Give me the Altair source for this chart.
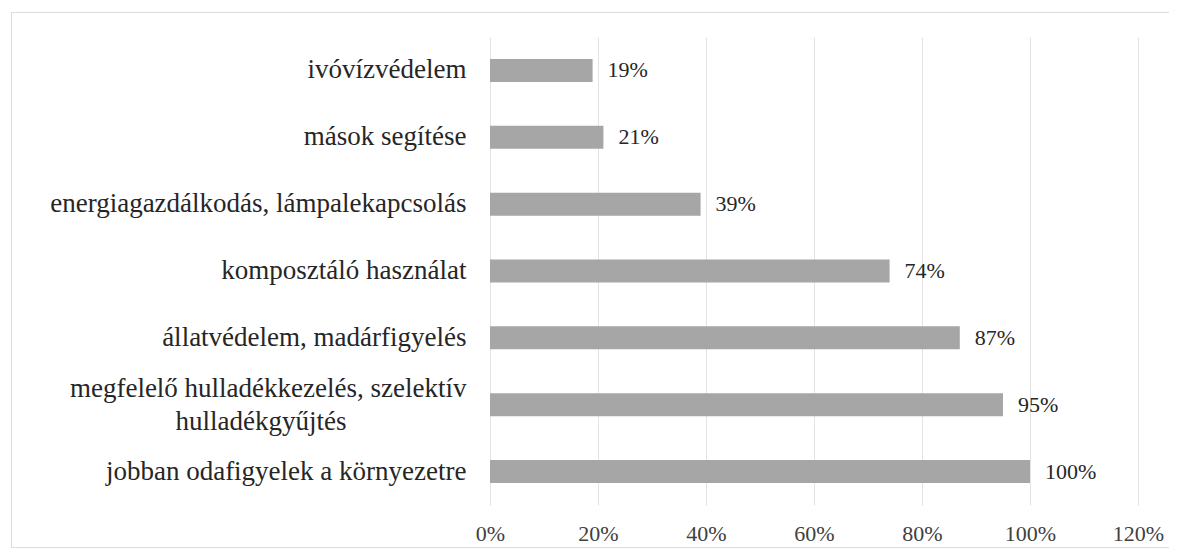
import altair as alt
import pandas as pd

categories = [
    "ivóvízvédelem",
    "mások segítése",
    "energiagazdálkodás, lámpalekapcsolás",
    "komposztáló használat",
    "állatvédelem, madárfigyelés",
    "megfelelő hulladékkezelés, szelektív|hulladékgyűjtés" + "\u2800" * 6,
    "jobban odafigyelek a környezetre",
]
values = [19, 21, 39, 74, 87, 95, 100]
tick_values = [0, 20, 40, 60, 80, 100, 120]

df = pd.DataFrame({"cat": categories, "val": values})
df["lbl"] = df["val"].astype(str) + "%"

FONT = "Liberation Serif"

y_enc = alt.Y(
    "cat:N",
    sort=categories,
    scale=alt.Scale(paddingInner=0.656, paddingOuter=0.328),
    axis=alt.Axis(
        title=None,
        domain=False,
        ticks=False,
        grid=False,
        labelFont=FONT,
        labelFontSize=27,
        labelColor="#262626",
        labelPadding=24,
        labelLimit=1000,
        labelLineHeight=33,
        labelExpr="split(datum.label, '|')",
        labelOffset={
            "condition": {"test": "indexof(datum.value, '|') >= 0", "value": -16},
            "value": 0,
        },
    ),
)

x_enc = alt.X(
    "val:Q",
    scale=alt.Scale(domain=[0, 120], nice=False),
    axis=alt.Axis(
        title=None,
        values=tick_values,
        labelExpr="datum.value + '%'",
        domain=False,
        ticks=False,
        grid=True,
        gridColor="#e3e3e3",
        gridWidth=1,
        labelFont=FONT,
        labelFontSize=22,
        labelColor="#404040",
        labelPadding=18,
        labelFlush=False,
    ),
)

bars = alt.Chart(df).mark_bar(color="#a6a6a6").encode(x=x_enc, y=y_enc)

texts = alt.Chart(df).mark_text(
    align="left", baseline="middle", dx=15, font=FONT, fontSize=22, color="#262626"
).encode(x=x_enc, y=y_enc, text="lbl:N")

frame = pd.DataFrame({"a": [0]})
border_top = alt.Chart(frame).mark_rule(color="#dcdcdc", strokeWidth=1).encode(
    x=alt.value(-479), x2=alt.value(700), y=alt.value(-24.5)
)
border_left = alt.Chart(frame).mark_rule(color="#dcdcdc", strokeWidth=1).encode(
    x=alt.value(-478.5), y=alt.value(-25), y2=alt.value(511)
)
border_bottom = alt.Chart(frame).mark_rule(color="#dcdcdc", strokeWidth=1).encode(
    x=alt.value(-479), x2=alt.value(700), y=alt.value(510.5)
)

chart = (
    alt.layer(border_top, border_left, border_bottom, bars, texts)
    .properties(
        width=648,
        height=468,
        autosize="none",
        padding={"left": 482, "top": 29, "right": 31, "bottom": 43},
        background="white",
    )
    .configure_view(stroke=None)
    .configure_axis(labelFont=FONT)
    .configure_text(font=FONT)
)

chart.save("out.html", embed_options={"renderer": "svg", "actions": False})
